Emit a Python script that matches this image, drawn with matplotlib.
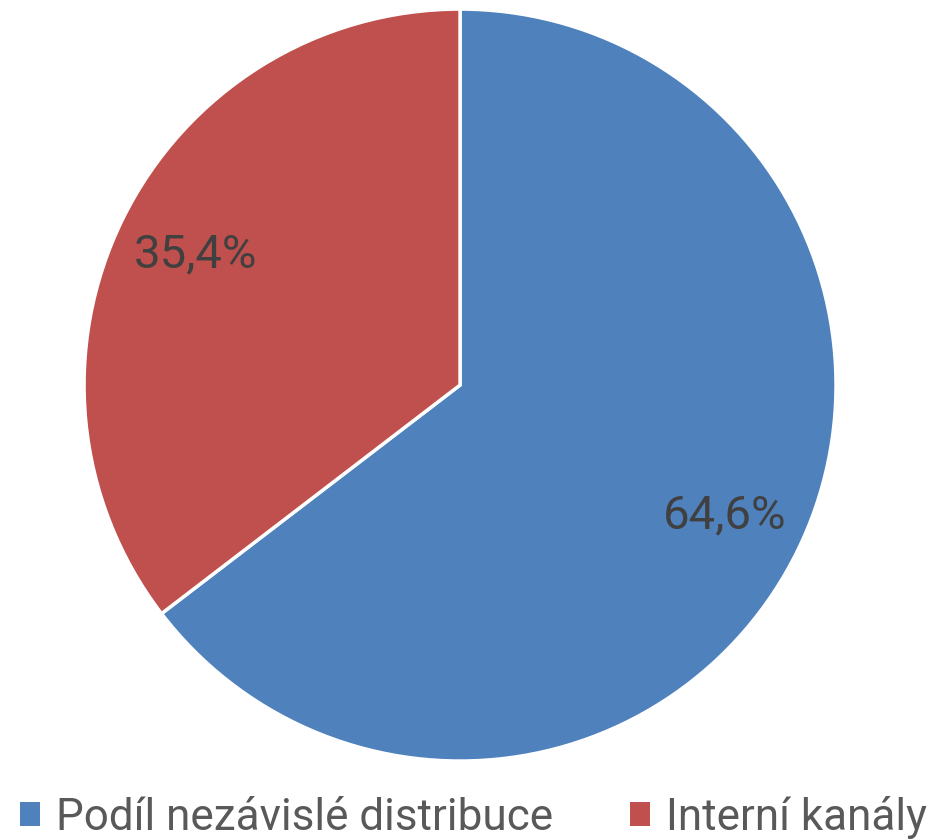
import matplotlib
matplotlib.use("Agg")
import matplotlib.pyplot as plt
from matplotlib.patches import Patch

categories = ["Podíl nezávislé distribuce", "Interní kanály"]
values = [64.6, 35.4]
colors = ["#4F81BD", "#C0504D"]

fig = plt.figure(figsize=(9.38, 8.4), dpi=100)
ax = fig.add_axes([0.0896, 0.094, 0.8017, 0.8952])
wedges, texts, autotexts = ax.pie(
    values, colors=colors, startangle=90, counterclock=False,
    autopct=lambda p: f"{p:.1f}%".replace(".", ","), pctdistance=0.785,
    wedgeprops=dict(edgecolor="white", linewidth=2.5),
    textprops=dict(color="#404040", fontsize=34, family=["Roboto", "DejaVu Sans"]))
ax.set_xlim(-1, 1)
ax.set_ylim(-1, 1)
ax.set_aspect("equal")
ax.axis("off")

handles = [Patch(facecolor=c, edgecolor="none") for c in colors]
fig.legend(handles, categories, loc="lower center", ncol=2, frameon=False,
           bbox_to_anchor=(0.505, -0.046), handlelength=0.45, handleheight=0.45,
           handletextpad=0.36, columnspacing=1.75,
           prop=dict(family=["Roboto", "DejaVu Sans"], size=31.7), labelcolor="#595959")

fig.savefig("out.png", dpi=100)
